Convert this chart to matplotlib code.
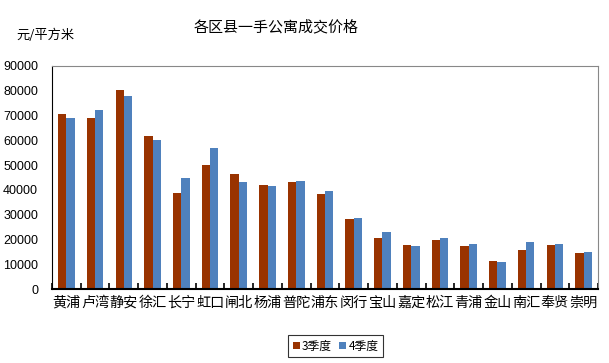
import numpy as np
import matplotlib.pyplot as plt

plt.rcParams["font.family"] = ["Noto Sans CJK SC", "DejaVu Sans"]

districts = ["黄浦", "卢湾", "静安", "徐汇", "长宁", "虹口", "闸北", "杨浦", "普陀", "浦东",
             "闵行", "宝山", "嘉定", "松江", "青浦", "金山", "南汇", "奉贤", "崇明"]
q3 = [70600, 69000, 80300, 61700, 38700, 50000, 46400, 42000, 43200, 38300,
      28200, 20600, 17700, 19800, 17300, 11300, 15700, 17700, 14500]
q4 = [69000, 72200, 77900, 60100, 44800, 56900, 43200, 41600, 43600, 39500,
      28600, 23000, 17300, 20600, 18200, 10900, 19000, 18200, 14900]

fig = plt.figure(figsize=(6.09, 3.63), dpi=100)
ax = fig.add_axes([52 / 609, 1 - 289 / 363, 546 / 609, 223 / 363])

x = np.arange(len(districts))
w = 0.29
ax.bar(x - w / 2, q3, w, color="#993300", label="3季度")
ax.bar(x + w / 2, q4, w, color="#4F81BD", label="4季度")

ax.set_xlim(-0.5, len(districts) - 0.5)
ax.set_ylim(0, 90000)
ax.set_yticks(range(0, 90001, 10000))
ax.set_yticklabels([str(v) for v in range(0, 90001, 10000)],
                   family=["Liberation Sans", "DejaVu Sans"], fontsize=9)
ax.tick_params(axis="y", length=0, pad=10)

ax.set_xticks(x)
ax.set_xticklabels(districts, fontsize=10.2)
ax.set_xticks(np.arange(-0.5, len(districts), 1), minor=True)
ax.tick_params(axis="x", which="major", length=0, pad=5)
ax.tick_params(axis="x", which="minor", direction="in", length=4, width=1.2)

for s in ["top", "right"]:
    ax.spines[s].set_color("#888888")
for s in ["left", "bottom"]:
    ax.spines[s].set_color("black")
ax.spines["bottom"].set_linewidth(1.5)

fig.text(276 / 609, 1 - 27 / 363, "各区县一手公寓成交价格", ha="center", va="center", fontsize=10.8)
fig.text(16 / 609, 1 - 35 / 363, "元/平方米", ha="left", va="center", fontsize=9.5)

leg = ax.legend(loc="center", bbox_to_anchor=(335.5 / 609, 1 - 346 / 363),
                bbox_transform=fig.transFigure, ncol=2, fontsize=8.5,
                frameon=True, fancybox=False, edgecolor="black",
                handlelength=0.6, handleheight=0.6, handletextpad=0.2,
                columnspacing=0.6, borderpad=0.4, borderaxespad=0)
leg.get_frame().set_linewidth(0.8)

fig.savefig("out.png", dpi=100)
